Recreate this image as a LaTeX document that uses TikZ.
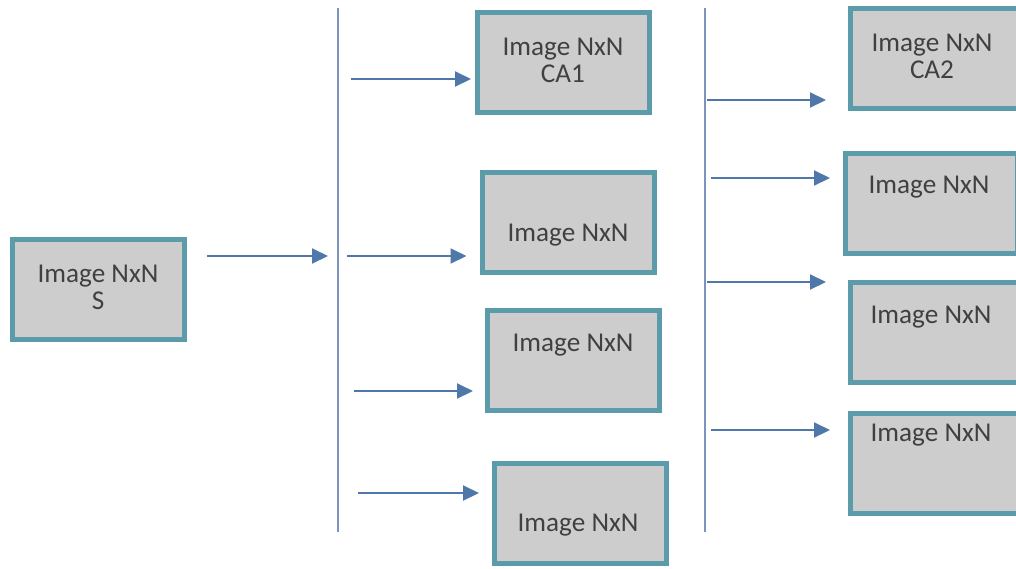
\documentclass[tikz,border=0pt]{standalone}
\usepackage{fontspec}
\setmainfont{Carlito}
\usetikzlibrary{arrows.meta}
\definecolor{imgEdge}{HTML}{5B9BAA}
\definecolor{imgFill}{HTML}{CDCDCD}
\definecolor{imgInk}{HTML}{404040}
\definecolor{flowBlue}{HTML}{4F77AA}
\definecolor{barBlue}{HTML}{7B93BD}
\tikzset{
  split diagram/.style={
    x=0.5pt, y=-0.5pt,
    >={Triangle[length=8pt,width=7.5pt]},
    every node/.style={font=\fontsize{13.6}{13.5}\selectfont,
      text=imgInk, inner sep=0pt, outer sep=0pt}
  },
  img box/.style={draw=imgEdge, fill=imgFill, line width=2.5pt,
    minimum width=86pt, minimum height=50pt},
  img text/.style={align=center},
  flow/.style={draw=flowBlue, line width=1pt, ->},
  bar/.style={draw=barBlue, line width=1pt}
}

\begin{document}
\begin{tikzpicture}[split diagram]
    \useasboundingbox (0,0) rectangle (1016,568);
    \clip (0,0) rectangle (1016,568);
    % source image
    \node[img box] (s) at (98.5,289.5) {};
    \node[img text] (s text) at (98,287) {Image NxN\\S};
    % first split
    \coordinate (bar1 top) at (338,8);
    \coordinate (bar1 bot) at (338,532);
    \draw[bar] (bar1 top) -- (bar1 bot);
    \coordinate (in s) at (207,256);
    \draw[flow, shorten >=5pt] (in s) -- (in s -| bar1 top);
    \node[img box] (ca1) at (563.5,62.5) {};
    \node[img box] (b2) at (568,222) {};
    \node[img box] (b3) at (573.5,360) {};
    \node[img box] (b4) at (580.5,513.5) {};
    \node[img text] (ca1 text) at (563,60) {Image NxN\\CA1};
    \node[img text] (b2 text) at (568,235) {Image NxN};
    \node[img text] (b3 text) at (573,345) {Image NxN};
    \node[img text] (b4 text) at (578,525) {Image NxN};
    \coordinate (a1) at (351,79);
    \coordinate (a2) at (347,256);
    \coordinate (a3) at (354,391);
    \coordinate (a4) at (358,493);
    \draw[flow, shorten >=3.25pt] (a1) -- (a1 -| ca1.west);
    \draw[flow, shorten >=7.75pt] (a2) -- (a2 -| b2.west);
    \draw[flow, shorten >=7.25pt] (a3) -- (a3 -| b3.west);
    \draw[flow, shorten >=7.75pt] (a4) -- (a4 -| b4.west);
    % second split
    \coordinate (bar2 top) at (705,8);
    \coordinate (bar2 bot) at (705,532);
    \draw[bar] (bar2 top) -- (bar2 bot);
    \node[img box] (ca2) at (936.5,58) {};
    \node[img box] (r2) at (931.5,203) {};
    \node[img box] (r3) at (936.5,332.5) {};
    \node[img box] (r4) at (936.5,463.5) {};
    \node[img text] (ca2 text) at (932,56) {Image NxN\\CA2};
    \node[img text] (r2 text) at (929,187) {Image NxN};
    \node[img text] (r3 text) at (931,317) {Image NxN};
    \node[img text] (r4 text) at (931,435) {Image NxN};
    \coordinate (c1) at (707,100);
    \coordinate (c2) at (711,178);
    \coordinate (c3) at (707,282);
    \coordinate (c4) at (711,430);
    \draw[flow, shorten >=12.25pt] (c1) -- (c1 -| ca2.west);
    \draw[flow, shorten >=7.75pt] (c2) -- (c2 -| r2.west);
    \draw[flow, shorten >=12.25pt] (c3) -- (c3 -| r3.west);
    \draw[flow, shorten >=10.25pt] (c4) -- (c4 -| r4.west);
\end{tikzpicture}
\end{document}
